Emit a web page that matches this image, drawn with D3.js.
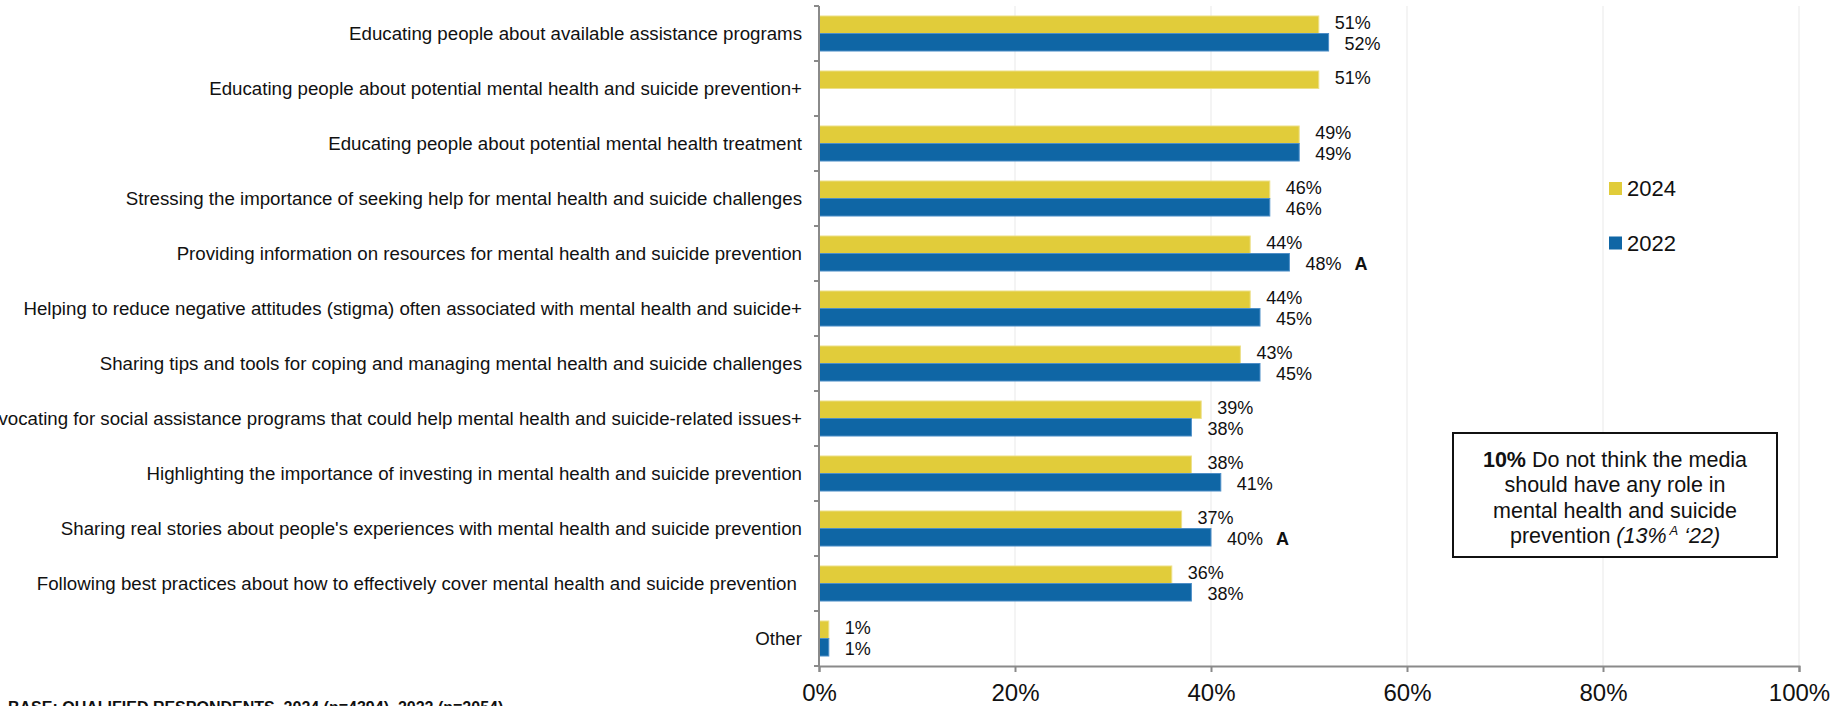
<!DOCTYPE html>
<html>
<head>
<meta charset="utf-8">
<script src="https://cdn.jsdelivr.net/npm/d3@7"></script>
<style>
  html, body { margin: 0; padding: 0; background: #fff; }
  svg { display: block; font-family: "Liberation Sans", Arial, sans-serif; }
  .cat { white-space: pre; }
</style>
</head>
<body>
<svg id="chart" width="1843" height="706"></svg>
<script>
// Media roles in mental health and suicide prevention, 2024 vs 2022
const categories = [
  "Educating people about available assistance programs",
  "Educating people about potential mental health and suicide prevention+",
  "Educating people about potential mental health treatment",
  "Stressing the importance of seeking help for mental health and suicide challenges",
  "Providing information on resources for mental health and suicide prevention",
  "Helping to reduce negative attitudes (stigma) often associated with mental health and suicide+",
  "Sharing tips and tools for coping and managing mental health and suicide challenges",
  "Advocating for social assistance programs that could help mental health and suicide-related issues+",
  "Highlighting the importance of investing in mental health and suicide prevention",
  "Sharing real stories about people's experiences with mental health and suicide prevention",
  "Following best practices about how to effectively cover mental health and suicide prevention ",
  "Other"
];
const seriesNames = ["2024", "2022"];
const values2024 = [51, 51, 49, 46, 44, 44, 43, 39, 38, 37, 36, 1];
const values2022 = [52, null, 49, 46, 48, 45, 45, 38, 41, 40, 38, 1];
// significance letters shown next to 2022 values
const sig2022 = ["", "", "", "", "A", "", "", "", "", "A", "", ""];
const xTicks = [0, 20, 40, 60, 80, 100];
const baseNote = "BASE: QUALIFIED RESPONDENTS, 2024 (n=4394), 2022 (n=2054)";

(function () {
  const colors = { "2024": "#E1CC3A", "2022": "#0F66A5" };
  const strokes = { "2024": "#EDE08A", "2022": "#4E8FC8" };

  const svg = d3.select("#chart");
  const plotLeft = 819, plotRight = 1799, plotTop = 6, plotBottom = 666;

  const x = d3.scaleLinear().domain([0, 100]).range([plotLeft, plotRight]);
  const y = d3.scaleBand().domain(categories).range([plotTop, plotBottom]).padding(0);
  const ySub = d3.scaleBand().domain(seriesNames).range([0, y.bandwidth()])
    .paddingInner(0).paddingOuter(0.57);

  const rows = categories.map((c, i) => ({
    cat: c,
    vals: [
      { s: "2024", v: values2024[i], sig: "" },
      { s: "2022", v: values2022[i], sig: sig2022[i] }
    ]
  }));

  // vertical gridlines
  svg.append("g").selectAll("line").data(xTicks.filter(t => t > 0)).join("line")
    .attr("x1", d => x(d)).attr("x2", d => x(d))
    .attr("y1", plotTop).attr("y2", plotBottom)
    .attr("stroke", "#e9e9e9").attr("stroke-width", 1);

  // bars
  const groups = svg.append("g").selectAll("g").data(rows).join("g")
    .attr("transform", d => `translate(0,${y(d.cat)})`);

  groups.selectAll("rect").data(d => d.vals.filter(v => v.v != null)).join("rect")
    .attr("x", x(0))
    .attr("y", d => ySub(d.s))
    .attr("width", d => x(d.v) - x(0))
    .attr("height", ySub.bandwidth())
    .attr("fill", d => colors[d.s])
    .attr("stroke", d => strokes[d.s])
    .attr("stroke-width", 1);

  // value labels
  const lab = groups.selectAll("text.val").data(d => d.vals.filter(v => v.v != null)).join("text")
    .attr("class", "val")
    .attr("x", d => x(d.v) + 16)
    .attr("y", d => ySub(d.s) + ySub.bandwidth() / 2 + (d.s === "2024" ? -2.5 : 1.5))
    .attr("dy", "0.35em")
    .attr("font-size", 18)
    .attr("fill", "#111");
  lab.append("tspan").text(d => d.v + "%");
  lab.filter(d => d.sig).append("tspan")
    .attr("dx", 13).attr("font-weight", "bold").text(d => d.sig);

  // y axis
  const yAxis = svg.append("g");
  yAxis.append("line")
    .attr("x1", plotLeft).attr("x2", plotLeft).attr("y1", plotTop).attr("y2", plotBottom)
    .attr("stroke", "#8a8a8a").attr("stroke-width", 2);
  const boundaries = categories.map(c => y(c)).concat([plotBottom]);
  yAxis.selectAll("line.tick").data(boundaries).join("line")
    .attr("class", "tick")
    .attr("x1", plotLeft - 5).attr("x2", plotLeft).attr("y1", d => d).attr("y2", d => d)
    .attr("stroke", "#8a8a8a").attr("stroke-width", 2);
  yAxis.selectAll("text").data(categories).join("text")
    .attr("class", "cat")
    .attr("x", plotLeft - 17)
    .attr("y", d => y(d) + y.bandwidth() / 2)
    .attr("dy", "0.35em")
    .attr("text-anchor", "end")
    .attr("font-size", 18.7)
    .attr("fill", "#111")
    .text(d => d);

  // x axis
  const xAxis = svg.append("g").attr("transform", `translate(0,${plotBottom})`)
    .call(d3.axisBottom(x).tickValues(xTicks).tickFormat(d => d + "%").tickSize(6).tickPadding(12));
  xAxis.select(".domain").attr("stroke", "#8a8a8a").attr("stroke-width", 2);
  xAxis.selectAll(".tick line").attr("stroke", "#8a8a8a").attr("stroke-width", 2);
  xAxis.selectAll(".tick text")
    .attr("font-family", "Liberation Sans, Arial, sans-serif")
    .attr("font-size", 24).attr("fill", "#111");

  // legend
  const legend = svg.append("g").selectAll("g").data(seriesNames).join("g")
    .attr("transform", (d, i) => `translate(1609,${182 + i * 54.5})`);
  legend.append("rect").attr("width", 13).attr("height", 13)
    .attr("fill", d => colors[d]);
  legend.append("text").attr("x", 18).attr("y", 6.5).attr("dy", "0.36em")
    .attr("font-size", 22).attr("fill", "#111").text(d => d);

  // note box
  const box = svg.append("g");
  box.append("rect").attr("x", 1453).attr("y", 433).attr("width", 324).attr("height", 124)
    .attr("fill", "#fff").attr("stroke", "#111").attr("stroke-width", 2);
  const noteText = box.append("text").attr("text-anchor", "middle")
    .attr("font-size", 21.5).attr("fill", "#111");
  const cx = 1615;
  const l1 = noteText.append("tspan").attr("x", cx).attr("y", 466.5);
  l1.append("tspan").attr("font-weight", "bold").text("10%");
  l1.append("tspan").text(" Do not think the media");
  noteText.append("tspan").attr("x", cx).attr("y", 492).text("should have any role in");
  noteText.append("tspan").attr("x", cx).attr("y", 517.5).text("mental health and suicide");
  const l4 = noteText.append("tspan").attr("x", cx).attr("y", 543);
  l4.append("tspan").text("prevention ");
  l4.append("tspan").attr("font-style", "italic").text("(13%");
  l4.append("tspan").attr("font-style", "italic").attr("font-size", 13).attr("dy", -8).attr("dx", 3).text("A");
  l4.append("tspan").attr("font-style", "italic").attr("dy", 8).text(" \u201822)");

  // base note
  svg.append("text").attr("x", 8).attr("y", 713)
    .attr("font-size", 16).attr("font-weight", "bold").attr("fill", "#111")
    .text(baseNote);
})();
</script>
</body>
</html>
